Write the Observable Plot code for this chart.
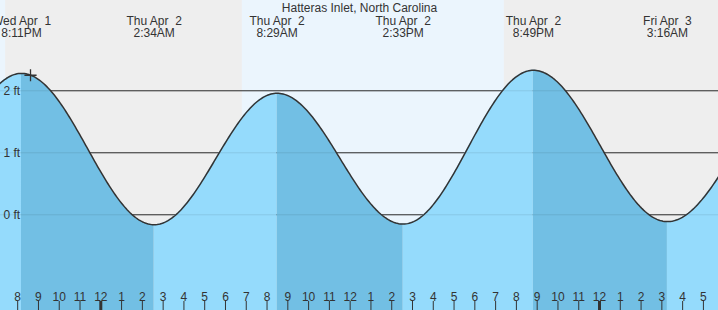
<!DOCTYPE html>
<html><head><meta charset="utf-8">
<script src="https://cdn.jsdelivr.net/npm/d3@7"></script>
<script src="https://cdn.jsdelivr.net/npm/@observablehq/plot@0.6"></script>
<style>html,body{margin:0;padding:0;background:#fff;} svg text{white-space:pre;}</style>
</head><body><div id="chart"></div>
<script>
const title = "Hatteras Inlet, North Carolina";
// times are hours since Wed Apr 1, 00:00 (local)
const extremeHours = [13.88, 20.183, 26.567, 32.483, 38.55, 44.817, 51.267, 57.6];
const extremeFeet  = [-0.2, 2.28, -0.16, 1.96, -0.15, 2.33, -0.11, 2.09];
const extremeDay   = [null, "Wed Apr  1", "Thu Apr  2", "Thu Apr  2", "Thu Apr  2", "Thu Apr  2", "Fri Apr  3", null];
const extremeClock = [null, "8:11PM", "2:34AM", "8:29AM", "2:33PM", "8:49PM", "3:16AM", null];
const sunsetHours  = [19.42, 43.42];
const sunriseHours = [30.81, 54.8];
const nowHour = [20.617];
const nowFeet = [2.25];
const hourTicks  = [20,21,22,23,24,25,26,27,28,29,30,31,32,33,34,35,36,37,38,39,40,41,42,43,44,45,46,47,48,49,50,51,52,53];
const hourLabels = ["8","9","10","11","12","1","2","3","4","5","6","7","8","9","10","11","12","1","2","3","4","5","6","7","8","9","10","11","12","1","2","3","4","5"];
const midnightTicks = [24, 48];
const feetTicks  = [0, 1, 2];
const feetLabels = ["0 ft", "1 ft", "2 ft"];
const xDomain = [19.173, 53.726];
const yDomain = [-1.544, 3.456];

const W = 718, H = 310;
const C = {day: "#ebf5fd", night: "#eeeeee", rise: "#95dbfc", fall: "#72bfe4", ink: "#333333"};

// cosine interpolation between successive tide extremes (drawing style)
function curveCosine(context) {
  return {
    _line: NaN, _point: 0, _x: 0, _y: 0,
    areaStart() { this._line = 0; },
    areaEnd() { this._line = NaN; },
    lineStart() { this._point = 0; },
    lineEnd() {
      if (this._line || (this._line !== 0 && this._point === 1)) context.closePath();
      this._line = 1 - this._line;
    },
    point(x, y) {
      x = +x; y = +y;
      if (this._point === 0) {
        this._point = 1;
        this._line ? context.lineTo(x, y) : context.moveTo(x, y);
      } else {
        this._point = 2;
        const x0 = this._x, y0 = this._y;
        const n = Math.max(2, Math.ceil(Math.abs(x - x0) / 1.5));
        for (let i = 1; i <= n; ++i) {
          const t = i / n;
          context.lineTo(x0 + (x - x0) * t, y0 + (y - y0) * (1 - Math.cos(Math.PI * t)) / 2);
        }
      }
      this._x = x; this._y = y;
    }
  };
}

const extremes = extremeHours.map((t, i) => ({t, h: extremeFeet[i], day: extremeDay[i], clock: extremeClock[i]}));
const segments = [];
for (let i = 0; i < extremes.length - 1; ++i) {
  const falling = extremes[i].h > extremes[i + 1].h;
  segments.push({seg: i, t: extremes[i].t, h: extremes[i].h, falling});
  segments.push({seg: i, t: extremes[i + 1].t, h: extremes[i + 1].h, falling});
}
const nights = sunsetHours.map((s, i) => ({start: s, end: sunriseHours[i]}));
const labeled = extremes.filter(d => d.day);
const hours = hourTicks.map((t, i) => ({t, label: hourLabels[i]}));
const feet = feetTicks.map((v, i) => ({v, label: feetLabels[i]}));

const chart = Plot.plot({
  width: W, height: H,
  marginTop: 0, marginRight: 0, marginBottom: 0, marginLeft: 0,
  style: {background: C.day, fontFamily: "'Liberation Sans', Arial, sans-serif", fontSize: "12px", color: C.ink},
  x: {domain: xDomain, axis: null},
  y: {domain: yDomain, axis: null},
  marks: [
    Plot.barX(nights, {x1: "start", x2: "end", fill: C.night, clip: true}),
    Plot.ruleY(feet, {y: "v", stroke: C.ink, strokeWidth: 1}),
    Plot.areaY(segments.filter(d => !d.falling), {x: "t", y1: yDomain[0], y2: "h", z: "seg", fill: C.rise, curve: curveCosine, clip: true}),
    Plot.areaY(segments.filter(d => d.falling), {x: "t", y1: yDomain[0], y2: "h", z: "seg", fill: C.fall, curve: curveCosine, clip: true}),
    Plot.ruleY(feet, {y: "v", stroke: "#000", strokeOpacity: 0.09, strokeWidth: 1}),
    Plot.line(extremes, {x: "t", y: "h", stroke: C.ink, strokeWidth: 1.5, curve: curveCosine, clip: true}),
    Plot.dot(nowHour.map((t, i) => ({t, h: nowFeet[i]})), {x: "t", y: "h", symbol: "plus", r: 4, stroke: C.ink, strokeWidth: 1.3}),
    Plot.text(feet, {y: "v", text: "label", frameAnchor: "left", textAnchor: "start", dx: 3, fill: C.ink}),
    Plot.text([title], {text: d => d, frameAnchor: "top", lineAnchor: "top", dy: 3, fill: C.ink}),
    Plot.text(labeled, {x: "t", text: d => d.day + "\n" + d.clock, frameAnchor: "top", lineAnchor: "top", lineHeight: 1, dy: 15.5, fill: C.ink}),
    Plot.ruleX(hours, {x: "t", stroke: C.ink, strokeWidth: 1, insetTop: H - 9}),
    Plot.ruleX(midnightTicks, {x: d => d, stroke: C.ink, strokeWidth: 3, insetTop: H - 9}),
    Plot.text(hours, {x: "t", text: "label", frameAnchor: "bottom", lineAnchor: "bottom", dy: -10, fill: C.ink})
  ]
});
document.getElementById("chart").appendChild(chart);
</script>
</body></html>
